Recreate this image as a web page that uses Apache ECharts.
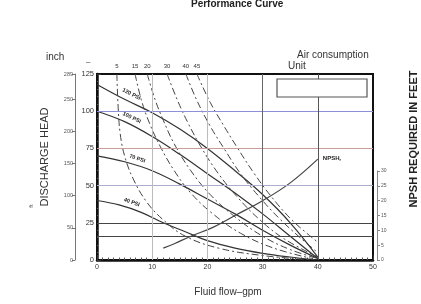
<!DOCTYPE html>
<html>
<head>
<meta charset="utf-8">
<script src="https://cdn.jsdelivr.net/npm/echarts@6/dist/echarts.min.js"></script>
<style>
  html, body { margin: 0; padding: 0; background: #fff; }
  #box { width: 421px; height: 304px; }
</style>
</head>
<body>
<div id="box"></div>
<script>
// pressure curves, [gpm, head ft]
const psi120 = [[0,118],[5,108],[10,99],[15,88],[20,75],[25,60],[30,44],[35,25],[40,2]];
const psi100 = [[0,100],[5,93],[10,83],[15,71],[20,58],[25,45],[30,31],[35,16],[40,1]];
const psi70 = [[0,70],[5,66],[10,60],[15,51],[20,41],[25,31],[30,20],[35,10],[40,1]];
const psi40 = [[0,40],[4,37],[8,32],[12,25],[16,19],[20,13],[25,8],[30,4.5],[35,2],[40,0]];
const pressureNames = ['120 PSI', '100 PSI', '70 PSI', '40 PSI'];

// air consumption curves (SCFM), [gpm, head ft]
const air5 = [[3.6,125],[3.8,105],[4.2,85],[5,70],[6.5,55],[9,39],[12,27],[16,16],[22,8],[30,3],[39,0]];
const air15 = [[6.9,125],[8,108],[9.5,92],[11.5,76],[14,60],[17,45],[21,31],[26,18],[32,8],[39,1]];
const air20 = [[9.1,125],[10.5,108],[12,94],[14,78],[17,60],[20.5,44],[25,29],[30,16],[35,7],[40,1]];
const air30 = [[12.7,125],[14.5,108],[16.5,92],[19,75],[22,58],[25.5,42],[29.5,27],[34,14],[40,2]];
const air40 = [[16.1,125],[18,108],[20.5,90],[23,75],[26,58],[29.5,42],[33,28],[36.5,16],[40,5]];
const air45 = [[18.1,125],[20.5,106],[23,90],[25.5,75],[28.5,58],[31.5,43],[35,28],[38,18],[40,12]];
const airNames = ['5', '15', '20', '30', '40', '45'];

// NPSH required, [gpm, ft]
const npsh = [[12,4],[14,5.5],[17,8],[21,11],[25,15],[30,20],[35,26],[40,34]];

// reference lines
const headLines = [100, 75, 50, 25, 16];
const flowLines = [10, 20, 30, 40];

const myChart = echarts.init(document.getElementById('box'));

const txt = '#333';
const headLineColors = ['#8f8fd6', '#c99c9c', '#aab0cc', '#444', '#444'];
const flowLineColors = ['#bbb', '#bbb', '#666', '#555'];

// label for the pressure curves, put on one point of each curve
const psiRotate = [-27, -26, -18, -20];
const psiOffset = [[5, -2], [6, -1], [12, -1], [12, -1]];
const psiLabel = (k) => ({
  show: true, position: 'top', distance: 3, formatter: pressureNames[k], rotate: psiRotate[k],
  offset: psiOffset[k],
  fontSize: 5.5, fontWeight: 'bold', color: '#222', fontFamily: 'Liberation Sans'
});
const pressureSeries = [psi120, psi100, psi70, psi40].map((d, k) => ({
  type: 'line', xAxisIndex: 0, yAxisIndex: 0,
  smooth: 0.4, symbol: 'circle', symbolSize: 0, showSymbol: true,
  lineStyle: { color: '#333', width: 1.2 },
  data: d.map((p, i) => i === 1 ? { value: p, label: psiLabel(k) } : p),
  z: 3
}));

const airSeries = [air5, air15, air20, air30, air40, air45].map((d, k) => ({
  type: 'line', xAxisIndex: 0, yAxisIndex: 0,
  smooth: 0.4, symbol: 'circle', symbolSize: 0, showSymbol: true,
  lineStyle: { color: '#444', width: 1, type: [7, 3, 2, 3] },
  data: d.map((p, i) => i === 0 ? {
    value: p,
    label: { show: true, position: 'top', distance: 5, formatter: airNames[k], fontSize: 6, color: txt }
  } : p),
  z: 3
}));

const option = {
  animation: false,
  grid: [
    { left: 97, top: 74, width: 276, height: 186, show: true, borderColor: '#111', borderWidth: 2 },
    { left: 75, top: 74, width: 1, height: 186 },
    { left: 377, top: 171, width: 1, height: 89 }
  ],
  xAxis: [
    {
      gridIndex: 0, type: 'value', min: 0, max: 50, interval: 10,
      axisLine: { lineStyle: { color: '#111', width: 2.5 } },
      axisTick: { inside: true, length: 5, lineStyle: { color: '#333' } },
      minorTick: { show: true, splitNumber: 10, length: 2.5, lineStyle: { color: '#555' } },
      axisLabel: { fontSize: 7, color: txt, margin: 4 },
      splitLine: { show: false }
    },
    { gridIndex: 1, type: 'value', show: false },
    { gridIndex: 2, type: 'value', show: false }
  ],
  yAxis: [
    {
      gridIndex: 0, type: 'value', min: 0, max: 125, interval: 25,
      axisLine: { show: true, lineStyle: { color: '#111', width: 2.5 } },
      axisTick: { show: true, inside: true, length: 4, lineStyle: { color: '#333' } },
      minorTick: { show: true, splitNumber: 5, length: 2, lineStyle: { color: '#555' } },
      axisLabel: { fontSize: 7.5, color: txt, margin: 3 },
      splitLine: { show: false }
    },
    // hidden NPSH scale for the curve, same pixels as the small right axis
    { gridIndex: 0, type: 'value', min: 0, max: 62.7, show: false },
    {
      gridIndex: 1, type: 'value', min: 0, max: 289, interval: 50,
      axisLine: { show: true, lineStyle: { color: '#777', width: 1 } },
      axisTick: { show: true, length: 3, lineStyle: { color: '#777' } },
      axisLabel: { fontSize: 5.5, color: '#555', margin: 2 },
      splitLine: { show: false }
    },
    {
      gridIndex: 2, type: 'value', position: 'right', min: 0, max: 30, interval: 5,
      axisLine: { show: true, lineStyle: { color: '#888', width: 1 } },
      axisTick: { show: true, length: 3, lineStyle: { color: '#888' } },
      axisLabel: { fontSize: 5, color: '#555', margin: 3 },
      splitLine: { show: false }
    }
  ],
  series: [
    {
      // reference lines only
      type: 'line', xAxisIndex: 0, yAxisIndex: 0, data: [], z: 1,
      markLine: {
        silent: true, symbol: 'none', animation: false,
        label: { show: false },
        data: headLines.map((v, i) => ({ yAxis: v, lineStyle: { color: headLineColors[i], width: 1, type: 'solid' } }))
          .concat(flowLines.map((v, i) => ({ xAxis: v, lineStyle: { color: flowLineColors[i], width: 1, type: 'solid' } })))
      }
    },
    ...pressureSeries,
    ...airSeries,
    {
      type: 'line', xAxisIndex: 0, yAxisIndex: 1,
      smooth: 0.4, symbol: 'circle', symbolSize: 0, showSymbol: true,
      lineStyle: { color: '#444', width: 1.2 },
      data: npsh.map((p, i) => i === npsh.length - 1 ? {
        value: p,
        label: {
          show: true, position: 'right', distance: 5, offset: [0, -1],
          formatter: '{a|NPSH}{b|r}',
          rich: { a: { fontSize: 6, fontWeight: 'bold', color: '#222' }, b: { fontSize: 4, fontWeight: 'bold', color: '#222', padding: [4, 0, 0, 0] } }
        }
      } : p),
      z: 3
    }
  ],
  graphic: [
    { type: 'text', left: 239 - 48, top: -1, style: { text: 'Performance Curve', font: 'bold 10px "Liberation Sans"', fill: '#222' } },
    { type: 'text', left: 46, top: 52, style: { text: 'inch', font: '10px "Liberation Sans"', fill: txt } },
    { type: 'text', left: 86, top: 58, style: { text: '–', font: '8px "Liberation Sans"', fill: txt } },
    { type: 'text', left: 297, top: 50, style: { text: 'Air consumption', font: '10px "Liberation Sans"', fill: txt } },
    { type: 'text', left: 288, top: 61, style: { text: 'Unit', font: '10px "Liberation Sans"', fill: txt } },
    {
      type: 'text', x: 45, y: 157, rotation: Math.PI / 2,
      style: { text: 'DISCHARGE HEAD', font: '11px "Liberation Sans"', fill: txt, align: 'center', verticalAlign: 'middle' }
    },
    {
      type: 'text', x: 31, y: 206, rotation: Math.PI / 2,
      style: { text: 'ft', font: '6px "Liberation Sans"', fill: '#555', align: 'center', verticalAlign: 'middle' }
    },
    {
      type: 'text', x: 414, y: 139, rotation: Math.PI / 2,
      style: { text: 'NPSH REQUIRED IN FEET', font: 'bold 11px "Liberation Sans"', fill: '#222', align: 'center', verticalAlign: 'middle' }
    },
    {
      type: 'text', x: 228, y: 292,
      style: { text: 'Fluid flow–gpm', font: '10px "Liberation Sans"', fill: txt, align: 'center', verticalAlign: 'middle' }
    },
    {
      type: 'rect', z: 10, shape: { x: 277, y: 79, width: 90, height: 18 },
      style: { fill: '#fff', stroke: '#555', lineWidth: 1.2 }
    }
  ]
};

myChart.setOption(option);
</script>
</body>
</html>
